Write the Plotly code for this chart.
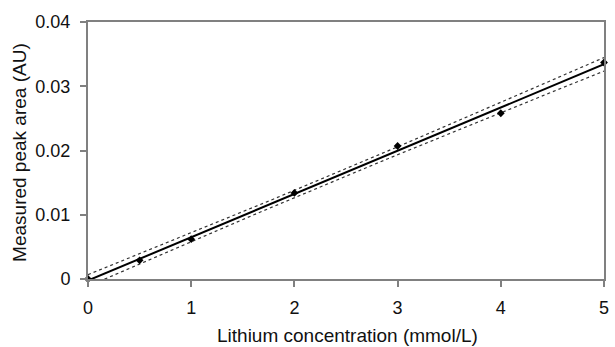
import numpy as np
import plotly.graph_objects as go

concentration = [0, 0.5, 1, 2, 3, 4, 5]
peak_area = [0.0, 0.0029, 0.0062, 0.0134, 0.0207, 0.0258, 0.0337]
x_ticks = [0, 1, 2, 3, 4, 5]
y_ticks = [0, 0.01, 0.02, 0.03, 0.04]
y_tick_labels = ["0", "0.01", "0.02", "0.03", "0.04"]
x_title = "Lithium concentration (mmol/L)"
y_title = "Measured peak area (AU)"

x = np.array(concentration)
y = np.array(peak_area)
n = len(x)
slope, intercept = np.polyfit(x, y, 1)
resid = y - (slope * x + intercept)
s = np.sqrt(np.sum(resid ** 2) / (n - 2))
sxx = np.sum((x - x.mean()) ** 2)
t_val = 2.571
xf = np.linspace(0, 5, 101)
yf = slope * xf + intercept
half = t_val * s * np.sqrt(1 / n + (xf - x.mean()) ** 2 / sxx)

FONT = "Liberation Sans, Arial, sans-serif"

fig = go.Figure()
fig.add_trace(go.Scatter(x=xf, y=yf + half, mode="lines",
                         line=dict(color="#333", width=1.2, dash="dot"), showlegend=False))
fig.add_trace(go.Scatter(x=xf, y=yf - half, mode="lines",
                         line=dict(color="#333", width=1.2, dash="dot"), showlegend=False))
fig.add_trace(go.Scatter(x=xf, y=yf, mode="lines",
                         line=dict(color="black", width=2), showlegend=False))
fig.add_trace(go.Scatter(x=concentration, y=peak_area, mode="markers",
                         marker=dict(symbol="diamond", size=6, color="black"),
                         showlegend=False, cliponaxis=False))

axis_common = dict(showline=True, linecolor="#808080", linewidth=2, mirror=True,
                   ticks="outside", ticklen=6, tickcolor="#808080", tickwidth=1.5,
                   showgrid=False, zeroline=False,
                   tickfont=dict(family=FONT, size=18, color="#111"))

fig.update_xaxes(range=[0, 5], tickvals=x_ticks, ticklabelstandoff=5, **axis_common)
fig.update_yaxes(range=[0, 0.04], tickvals=y_ticks, ticktext=y_tick_labels,
                 ticklabelstandoff=6, **axis_common)

fig.add_annotation(text=x_title, xref="paper", yref="paper", x=0.503, y=-0.218,
                   xanchor="center", yanchor="middle", showarrow=False,
                   font=dict(family=FONT, size=19, color="#111"))
fig.add_annotation(text=y_title, xref="paper", yref="paper", x=-0.134, y=0.494,
                   xanchor="center", yanchor="middle", showarrow=False, textangle=-90,
                   font=dict(family=FONT, size=19, color="#111"))

fig.update_layout(width=615, height=347, margin=dict(l=88, r=6, t=22, b=68),
                  plot_bgcolor="white", paper_bgcolor="white")

fig.write_html("out.html")
